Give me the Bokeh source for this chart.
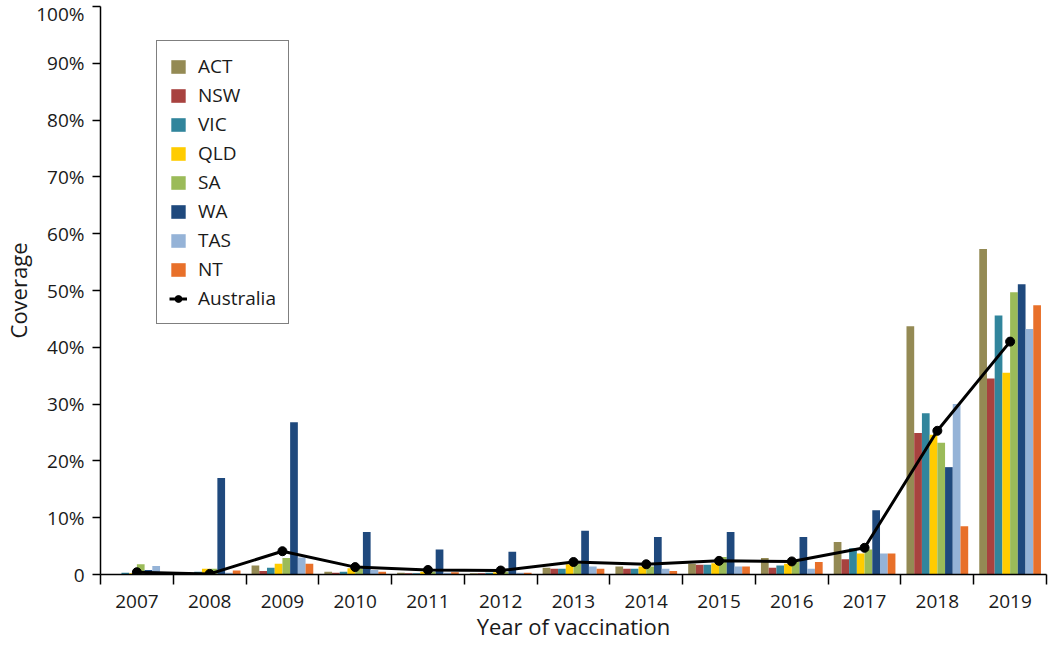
from bokeh.plotting import figure
from bokeh.models import Range1d, LinearAxis, FixedTicker, Legend, LegendItem, ColumnDataSource
from bokeh.embed import file_html
from bokeh.resources import INLINE

# ---- data (coverage, %) ----
years = ["2007", "2008", "2009", "2010", "2011", "2012", "2013",
         "2014", "2015", "2016", "2017", "2018", "2019"]
states = ["ACT", "NSW", "VIC", "QLD", "SA", "WA", "TAS", "NT"]
ACT = [0.1, 0.2, 1.6, 0.5, 0.3, 0.2, 1.2, 1.4, 1.9, 2.9, 5.7, 43.7, 57.3]
NSW = [0.1, 0.1, 0.6, 0.3, 0.2, 0.2, 1.0, 1.0, 1.7, 1.2, 2.7, 24.9, 34.5]
VIC = [0.3, 0.5, 1.2, 0.5, 0.2, 0.3, 1.0, 1.0, 1.7, 1.6, 4.6, 28.4, 45.6]
QLD = [0.2, 1.0, 1.9, 1.1, 0.5, 0.4, 1.8, 1.4, 2.0, 1.9, 3.7, 24.6, 35.5]
SA = [1.8, 1.0, 2.9, 1.0, 0.5, 0.5, 1.9, 1.4, 3.1, 2.2, 4.4, 23.2, 49.7]
WA = [0.8, 17.0, 26.8, 7.5, 4.4, 4.0, 7.7, 6.6, 7.5, 6.6, 11.3, 18.9, 51.1]
TAS = [1.5, 0.3, 3.0, 0.8, 0.3, 0.3, 1.4, 1.0, 1.4, 1.0, 3.7, 30.0, 43.2]
NT = [0.2, 0.7, 1.9, 0.5, 0.4, 0.3, 1.0, 0.6, 1.4, 2.2, 3.7, 8.5, 47.4]
australia = [0.4, 0.1, 4.1, 1.3, 0.8, 0.7, 2.2, 1.8, 2.4, 2.3, 4.7, 25.3, 41.0]
state_values = [ACT, NSW, VIC, QLD, SA, WA, TAS, NT]
colors = ["#948A54", "#A8423F", "#31859C", "#FFCC00", "#9BBB59", "#1F497D", "#95B3D7", "#E8702A"]
y_ticks = [0, 10, 20, 30, 40, 50, 60, 70, 80, 90, 100]
y_tick_labels = ["0", "10%", "20%", "30%", "40%", "50%", "60%", "70%", "80%", "90%", "100%"]

FONT = "Open Sans"
TXT = "#1a1a1a"

n = len(years)
centers = list(range(n))
bw = 0.106

p = figure(width=1048, height=644,
           x_range=Range1d(-0.5, n - 0.5), y_range=Range1d(0, 100),
           x_axis_type=None, y_axis_type=None,
           output_backend="svg", toolbar_location=None,
           min_border_left=94, min_border_right=2, min_border_top=6, min_border_bottom=70)
p.outline_line_color = None
p.background_fill_color = "white"
p.border_fill_color = "white"

xaxis = LinearAxis(
    ticker=FixedTicker(ticks=centers, minor_ticks=[c - 0.5 for c in range(n + 1)]),
    major_label_overrides={c: y for c, y in zip(centers, years)},
    axis_label="Year of vaccination",
)
xaxis.major_tick_out = 0
xaxis.major_tick_in = 0
xaxis.minor_tick_out = 10
xaxis.minor_tick_in = 0
xaxis.minor_tick_line_color = "black"
xaxis.minor_tick_line_width = 1.5
xaxis.axis_line_color = "black"
xaxis.axis_line_width = 1.5
xaxis.major_label_standoff = 10
xaxis.major_label_text_font = FONT
xaxis.major_label_text_font_size = "19px"
xaxis.major_label_text_color = TXT
xaxis.axis_label_text_font = FONT
xaxis.axis_label_text_font_size = "22px"
xaxis.axis_label_text_font_style = "normal"
xaxis.axis_label_text_color = TXT
xaxis.axis_label_standoff = 0
p.add_layout(xaxis, "below")

yaxis = LinearAxis(
    ticker=FixedTicker(ticks=y_ticks),
    major_label_overrides={t: l for t, l in zip(y_ticks, y_tick_labels)},
    axis_label="Coverage",
)
yaxis.major_tick_out = 8
yaxis.major_tick_in = 0
yaxis.major_tick_line_width = 1.5
yaxis.minor_tick_line_color = None
yaxis.axis_line_color = "black"
yaxis.axis_line_width = 1.5
yaxis.major_label_standoff = 8
yaxis.major_label_text_font = FONT
yaxis.major_label_text_font_size = "19px"
yaxis.major_label_text_color = TXT
yaxis.axis_label_text_font = FONT
yaxis.axis_label_text_font_size = "22px"
yaxis.axis_label_text_font_style = "normal"
yaxis.axis_label_text_color = TXT
yaxis.axis_label_standoff = 0
p.add_layout(yaxis, "left")

items = []
for k, (name, vals, col) in enumerate(zip(states, state_values, colors)):
    off = (k - 3.5) * bw
    src = ColumnDataSource(dict(x=[c + off for c in centers], top=vals))
    r = p.vbar(x="x", top="top", bottom=0, width=bw, source=src,
               fill_color=col, line_color=None)
    items.append(LegendItem(label=name, renderers=[r]))

asrc = ColumnDataSource(dict(x=centers, y=australia))
rl = p.line(x="x", y="y", source=asrc, line_color="black", line_width=3)
rs = p.scatter(x="x", y="y", source=asrc, size=9, fill_color="black", line_color="black")
items.append(LegendItem(label="Australia", renderers=[rl, rs]))

legend = Legend(items=items, location=(56, 250))
legend.label_text_font = FONT
legend.label_text_font_size = "19px"
legend.label_text_color = TXT
legend.glyph_width = 18
legend.glyph_height = 17
legend.label_standoff = 11
legend.label_height = 23
legend.spacing = 3
legend.padding = 12
legend.margin = 0
legend.border_line_color = "black"
legend.border_line_width = 1.5
legend.background_fill_color = "white"
legend.background_fill_alpha = 1
p.add_layout(legend)

open("out.html", "w").write(file_html(p, INLINE))
